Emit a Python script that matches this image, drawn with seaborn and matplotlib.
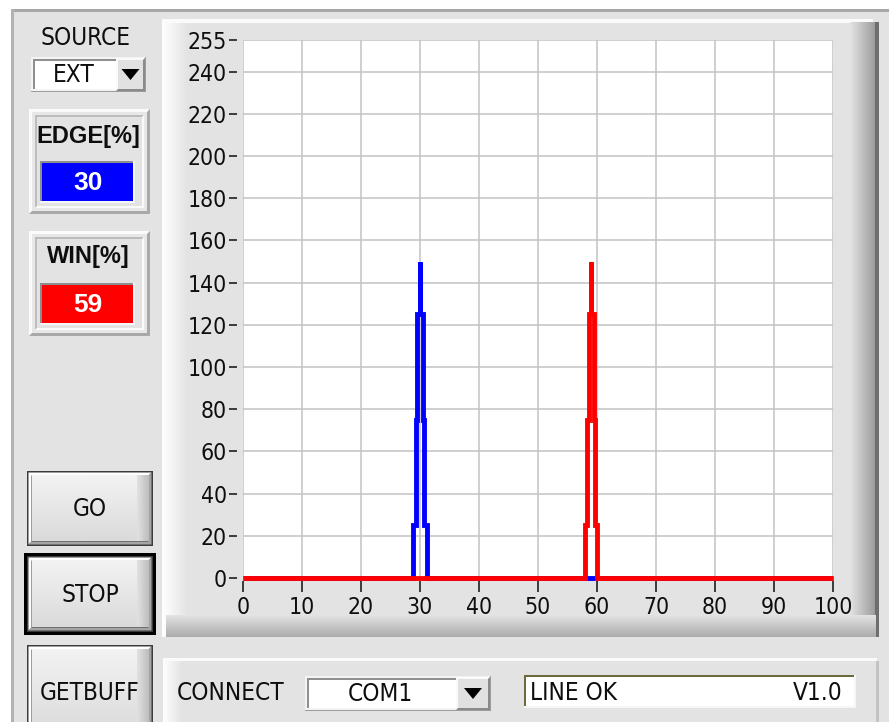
import numpy as np
import matplotlib
matplotlib.use('Agg')
import matplotlib.pyplot as plt
from matplotlib import font_manager as fm
from matplotlib.colors import to_rgb
from matplotlib.patches import Rectangle, Polygon
import seaborn as sns

# signal traces (x in %, y in counts)
edge_x = [0, 28.8, 28.8, 29.28, 29.28, 29.55, 29.55, 29.97, 29.97, 30.03, 30.03, 30.45, 30.45, 30.72, 30.72, 31.2, 31.2, 100]
edge_y = [0, 0, 25, 25, 75, 75, 125, 125, 150, 150, 125, 125, 75, 75, 25, 25, 0, 0]
win_x = [0, 57.95, 57.95, 58.35, 58.35, 58.57, 58.57, 58.97, 58.97, 59.03, 59.03, 59.43, 59.43, 59.65, 59.65, 60.05, 60.05, 100]
win_y = [0, 0, 25, 25, 75, 75, 125, 125, 150, 150, 125, 125, 75, 75, 25, 25, 0, 0]

x_ticks = [0, 10, 20, 30, 40, 50, 60, 70, 80, 90, 100]
y_ticks = [0, 20, 40, 60, 80, 100, 120, 140, 160, 180, 200, 220, 240, 255]

source_value = 'EXT'
edge_value = '30'
win_value = '59'
port_value = 'COM1'
status_text = 'LINE OK'
version_text = 'V1.0'

sns.set_style("white")
has_cond = any(f.name == 'DejaVu Sans' and f.stretch == 'condensed' for f in fm.fontManager.ttflist)
if has_cond:
    plt.rcParams['font.family'] = ['DejaVu Sans']
    plt.rcParams['font.stretch'] = 'condensed'
else:
    plt.rcParams['font.family'] = ['Liberation Sans Narrow', 'DejaVu Sans']

PANEL = '#e3e3e3'
TXT = '#0e0e0e'

fig = plt.figure(figsize=(8.89, 7.22), dpi=100)
fig.patch.set_facecolor('white')
bg = fig.add_axes([0, 0, 1, 1])
bg.axis('off')

zc = [0]


def nz():
    zc[0] += 1
    return zc[0]


def box(x0, y0, x1, y1, color):
    bg.add_patch(Rectangle((x0, y0), x1 - x0, y1 - y0, facecolor=color, edgecolor='none', zorder=nz()))


def grad(x0, y0, x1, y1, c0, c1, vertical=False):
    t = np.linspace(0, 1, 64)[:, None]
    cols = np.array(to_rgb(c0)) * (1 - t) + np.array(to_rgb(c1)) * t
    img = cols[:, None, :] if vertical else cols[None, :, :]
    bg.imshow(img, extent=(x0, x1, y1, y0), aspect='auto', interpolation='bilinear', zorder=nz())


def bevel(x0, y0, x1, y1, light, dark, w):
    bg.add_patch(Polygon([(x0, y1), (x0, y0), (x1, y0), (x1 - w, y0 + w), (x0 + w, y0 + w), (x0 + w, y1 - w)],
                         closed=True, facecolor=light, edgecolor='none', zorder=nz()))
    bg.add_patch(Polygon([(x1, y0), (x1, y1), (x0, y1), (x0 + w, y1 - w), (x1 - w, y1 - w), (x1 - w, y0 + w)],
                         closed=True, facecolor=dark, edgecolor='none', zorder=nz()))


def label(x, y, s, size=17.5, ha='center', **kw):
    bg.text(x, y, s, ha=ha, va='center', fontsize=size, color=kw.pop('color', TXT), zorder=nz(), **kw)


def frame(x0, y0, x1, y1):
    bevel(x0, y0, x1, y1, '#fbfbfb', '#a9a9a9', 3)
    box(x0 + 3, y0 + 3, x1 - 3, y1 - 3, '#e7e7e7')
    bevel(x0 + 6, y0 + 6, x1 - 6, y1 - 6, '#bcbcbc', '#fafafa', 2)
    box(x0 + 8, y0 + 8, x1 - 8, y1 - 8, PANEL)


def button(x0, y0, x1, y1, text):
    box(x0, y0, x1, y1, '#3c3c3c')
    bevel(x0 + 1.5, y0 + 1.5, x1 - 1.5, y1 - 1.5, '#ffffff', '#a4a4a4', 3)
    grad(x0 + 4.5, y0 + 4.5, x1 - 4.5, y1 - 4.5, '#f3f3f3', '#dadada', vertical=True)
    grad(x1 - 16, y0 + 4.5, x1 - 4.5, y1 - 4.5, '#e2e2e2', '#bdbdbd')
    label((x0 + x1) / 2, (y0 + y1) / 2 + 1, text)


def dropdown(x0, y0, xs, x1, y1, text):
    box(x0, y0, x1 + 1, y1 + 1, '#9c9c9c')
    box(x0, y0, x1, y1, '#f3f3f3')
    box(x0 + 2, y0 + 2, xs, y1 - 2, 'white')
    box(x0 + 2, y0 + 2, xs, y0 + 3.5, '#8f8f8f')
    box(x0 + 2, y0 + 2, x0 + 3.5, y1 - 2, '#8f8f8f')
    bevel(xs, y0 + 1, x1, y1, '#fafafa', '#8a8a8a', 2)
    box(xs + 2, y0 + 3, x1 - 2, y1 - 2, '#e1e1e1')
    cx, cy = (xs + x1) / 2, (y0 + y1) / 2
    bg.add_patch(Polygon([(cx - 9, cy - 5), (cx + 9, cy - 5), (cx, cy + 6)], closed=True,
                         facecolor='black', edgecolor='none', zorder=nz()))
    label((x0 + xs) / 2, cy + 1, text)


# window background and borders
box(0, 0, 889, 722, 'white')
box(11, 9, 889, 722, PANEL)
box(11, 9, 889, 12, '#a8a8a8')
box(11, 9, 14, 722, '#b2b2b2')

# chart frame
box(162, 19, 879, 637, PANEL)
grad(162, 19, 188, 637, '#ffffff', PANEL)
box(162, 19, 873, 23, '#fafafa')
grad(850, 22, 876, 637, PANEL, '#9a9a9a')
box(875, 22, 879, 637, '#6e6e6e')
grad(166, 615, 876, 637, PANEL, '#ababab', vertical=True)

# bottom status panel
box(163, 658, 879, 722, PANEL)
grad(163, 658, 182, 722, '#ffffff', PANEL)
box(163, 658, 877, 661, '#fafafa')
box(876, 661, 879, 722, '#c4c4c4')

# left controls
label(85, 38, 'SOURCE')
dropdown(31, 57, 116, 145, 91, source_value)

frame(29, 109, 150, 214)
label(88, 136, 'EDGE[%]', size=17, family='Liberation Sans', weight='bold', stretch='normal')
box(40, 161, 135, 203, '#f6f6f6')
box(40, 161, 133, 201, '#8e8e8e')
box(42, 163, 133, 201, '#0000ff')
label(88, 183, edge_value, size=19, color='white', family='Liberation Sans', weight='bold', stretch='normal')

frame(29, 231, 150, 336)
label(88, 257, 'WIN[%]', size=17, family='Liberation Sans', weight='bold', stretch='normal')
box(40, 283, 135, 325, '#f6f6f6')
box(40, 283, 133, 323, '#8e8e8e')
box(42, 285, 133, 323, '#ff0000')
label(88, 305, win_value, size=19, color='white', family='Liberation Sans', weight='bold', stretch='normal')

button(27, 471, 153, 546, 'GO')
box(24, 553, 156, 635, '#000000')
button(27, 556, 153, 632, 'STOP')
button(27, 645, 153, 740, 'GETBUFF')

# bottom row
label(231, 693, 'CONNECT')
dropdown(305, 676, 456, 490, 710, port_value)
box(524, 675, 856, 708, '#f6f6f6')
box(524, 675, 854, 706, 'white')
box(524, 675, 854, 677, '#6c693a')
box(524, 675, 526, 706, '#6c693a')
label(530, 693, status_text, ha='left')
label(843, 693, version_text, ha='right')

bg.set_xlim(0, 889)
bg.set_ylim(722, 0)

# chart
ax = fig.add_axes([243 / 889, (722 - 578) / 722, 590 / 889, 538 / 722])
ax.set_zorder(5)
ax.set_facecolor('white')
sns.lineplot(x=edge_x, y=edge_y, sort=False, estimator=None, color='#0000ff', linewidth=3.5, ax=ax)
sns.lineplot(x=win_x, y=win_y, sort=False, estimator=None, color='#ff0000', linewidth=3.5, ax=ax)
for ln in ax.lines:
    ln.set_clip_on(False)
    ln.set_solid_joinstyle('miter')
    ln.set_solid_capstyle('butt')

ax.set_xlim(0, 100)
ax.set_ylim(0, 255)
ax.set_xticks(x_ticks)
ax.set_yticks(y_ticks)
ax.set_xlabel('')
ax.set_ylabel('')
ax.grid(True, color='#c2c2c2', linewidth=1.1)
ax.set_axisbelow(True)
for s in ax.spines.values():
    s.set_visible(False)
ax.spines['left'].set_position(('outward', 4))
ax.spines['bottom'].set_position(('outward', 2))
ax.tick_params(axis='y', left=True, direction='out', length=5.5, width=1.1, pad=2,
               labelsize=16.5, color=TXT, labelcolor=TXT)
ax.tick_params(axis='x', bottom=True, direction='out', length=8, width=1.1, pad=3,
               labelsize=16.5, color=TXT, labelcolor=TXT)

fig.savefig('out.png', dpi=100)
